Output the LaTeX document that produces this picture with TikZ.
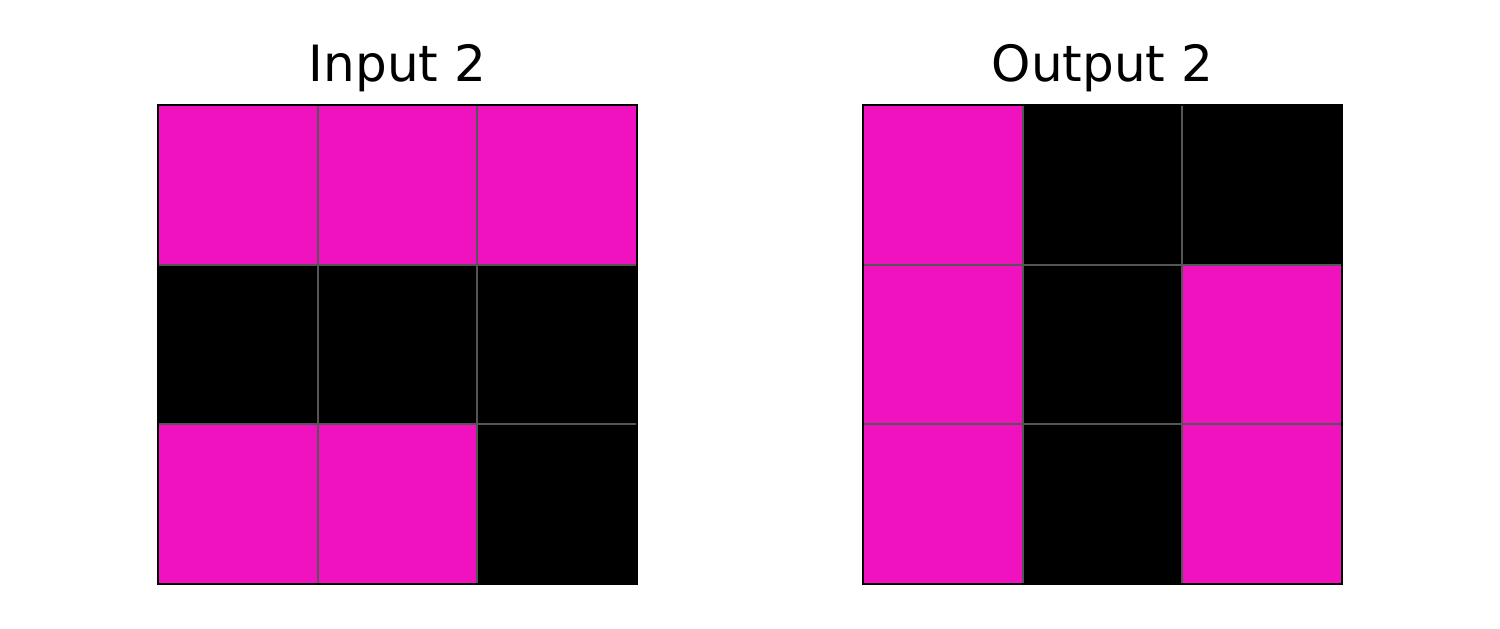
\documentclass[tikz,border=0pt]{standalone}
\usepackage{fontspec}
\setmainfont{DejaVu Sans}
\usetikzlibrary{positioning}
\definecolor{magcolor}{RGB}{240,18,190}
\definecolor{blkcolor}{RGB}{0,0,0}
\definecolor{linecolor}{RGB}{85,85,85}
\def\cellsize{159.7}
\tikzset{
  cell/.style  = {rectangle, minimum size=\cellsize pt, inner sep=0pt, outer sep=0pt,
                  draw=linecolor, line width=2pt},
  mag/.style   = {cell, fill=magcolor},
  blk/.style   = {cell, fill=blkcolor},
  frame/.style = {draw=black, line width=2.5pt},
  title/.style = {font=\fontsize{50}{60}\selectfont}
}
\begin{document}
\begin{tikzpicture}[x=1pt,y=1pt]
\useasboundingbox (0,0) rectangle (1500,629);

% --- input grid (3x3) ---
\foreach \row [count=\r] in {{mag,mag,mag}, {blk,blk,blk}, {mag,mag,blk}}{
  \foreach \kind [count=\c] in \row{
    \node[\kind] (in-\r-\c) at (158+\c*\cellsize-0.5*\cellsize, 524-\r*\cellsize+0.5*\cellsize) {};
  }
}

% --- output grid (3x3) ---
\foreach \row [count=\r] in {{mag,blk,blk}, {mag,blk,mag}, {mag,blk,mag}}{
  \foreach \kind [count=\c] in \row{
    \node[\kind] (out-\r-\c) at (863+\c*\cellsize-0.5*\cellsize, 524-\r*\cellsize+0.5*\cellsize) {};
  }
}

% --- outer frames ---
\draw[frame] (in-1-1.north west) rectangle (in-3-3.south east);
\draw[frame] (out-1-1.north west) rectangle (out-3-3.south east);

% --- titles ---
\node[title, above=23pt of in-1-2, anchor=base] (intitle) {Input 2};
\node[title, above=23pt of out-1-2, anchor=base] (outtitle) {Output 2};

\end{tikzpicture}
\end{document}
